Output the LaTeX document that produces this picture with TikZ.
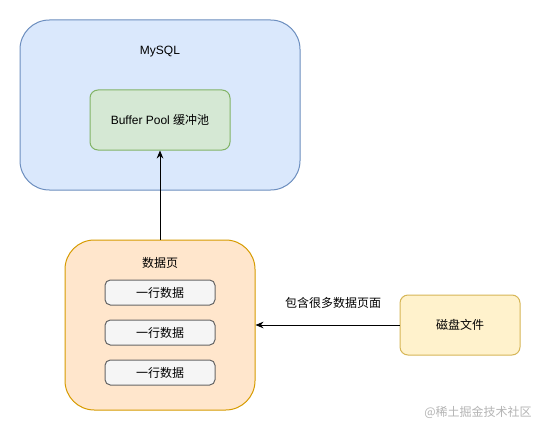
\documentclass[tikz,border=0pt]{standalone}
\usepackage{fontspec}
\setmainfont{Liberation Sans}
\newfontfamily\cjk{Noto Sans CJK SC}
\usetikzlibrary{arrows.meta}
\definecolor{bluefill}{HTML}{DAE8FC}\definecolor{bluedraw}{HTML}{6C8EBF}
\definecolor{greenfill}{HTML}{D5E8D4}\definecolor{greendraw}{HTML}{82B366}
\definecolor{orangefill}{HTML}{FFE6CC}\definecolor{orangedraw}{HTML}{D79B00}
\definecolor{yellowfill}{HTML}{FFF2CC}\definecolor{yellowdraw}{HTML}{D6B656}
\definecolor{grayfill}{HTML}{F5F5F5}\definecolor{graydraw}{HTML}{666666}
\definecolor{wm}{HTML}{B4B4B4}
\tikzset{
  box/.style={draw, line width=0.75pt, inner sep=0pt, font=\fontsize{9}{11}\selectfont},
  bigbox/.style={box, rounded corners=22pt},
  smallbox/.style={box, rounded corners=6pt},
  lbl/.style={inner sep=0pt, font=\fontsize{9}{11}\selectfont},
  conn/.style={line width=0.75pt, -{Stealth[length=6pt,width=5pt]}}
}
\begin{document}
\begin{tikzpicture}[x=0.75pt,y=-0.75pt]
\useasboundingbox[fill=white] (0,0) rectangle (541,431);
% MySQL
\node[bigbox, fill=bluefill, draw=bluedraw, minimum width=210pt, minimum height=127.5pt] (mysql) at (160,105) {};
\node[lbl] (mysqllbl) at (160,52) {MySQL};
\node[smallbox, fill=greenfill, draw=greendraw, minimum width=105pt, minimum height=45pt] (bp) at (160,120) {Buffer Pool {\cjk 缓冲池}};
% data page
\node[bigbox, fill=orangefill, draw=orangedraw, minimum width=142.5pt, minimum height=127.5pt] (page) at (160,325) {};
\node[lbl] (pagelbl) at (160,263) {\cjk 数据页};
\node[smallbox, rounded corners=4pt, fill=grayfill, draw=graydraw, minimum width=82.5pt, minimum height=18.75pt] (r1) at (160,292.5) {\cjk 一行数据};
\node[smallbox, rounded corners=4pt, fill=grayfill, draw=graydraw, minimum width=82.5pt, minimum height=18.75pt] (r2) at (160,332.5) {\cjk 一行数据};
\node[smallbox, rounded corners=4pt, fill=grayfill, draw=graydraw, minimum width=82.5pt, minimum height=18.75pt] (r3) at (160,372.5) {\cjk 一行数据};
% disk
\node[smallbox, fill=yellowfill, draw=yellowdraw, minimum width=90pt, minimum height=45pt] (disk) at (460,325) {\cjk 磁盘文件};
% connectors
\draw[conn] (page.north) -- (bp.south);
\draw[conn] (disk.west) -- (page.east);
\node[lbl] (conlbl) at (333,303) {\cjk 包含很多数据页面};
% watermark
\node[lbl, text=wm] (wmk) at (478,412) {\cjk @稀土掘金技术社区};
\end{tikzpicture}
\end{document}
